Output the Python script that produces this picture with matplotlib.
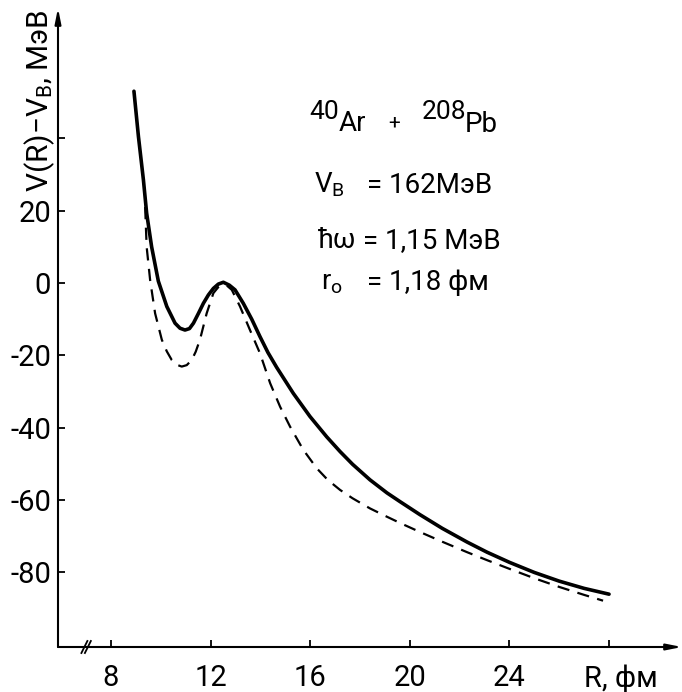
import numpy as np
import matplotlib
matplotlib.use('Agg')
import matplotlib.pyplot as plt
from matplotlib.transforms import blended_transform_factory


plt.rcParams['font.family'] = ['Roboto', 'DejaVu Sans']
plt.rcParams['mathtext.fontset'] = 'custom'
plt.rcParams['mathtext.rm'] = 'Roboto'
plt.rcParams['mathtext.it'] = 'Roboto'


# V(R) - V_B, MeV ; solid curve
r_solid = [8.92, 9.10, 9.30, 9.43, 9.63, 9.90, 10.24, 10.57, 10.77, 10.97, 11.15,
           11.31, 11.51, 11.71, 11.91, 12.11, 12.31, 12.51, 12.75, 12.98, 13.31,
           13.65, 13.98, 14.30, 14.65, 15.32, 15.99, 16.66, 17.20, 17.70, 18.40,
           19.08, 19.60, 20.40, 21.30, 22.30, 23.10, 24.00, 25.00, 26.00, 27.00,
           28.00]
v_solid = [53.0, 40.5, 28.5, 19.3, 10.0, 0.5, -6.5, -11.1, -12.5, -13.0, -12.6,
           -11.1, -8.4, -5.6, -3.3, -1.5, -0.3, 0.2, -0.6, -1.9, -5.6,
           -10.0, -14.8, -19.2, -23.3, -30.5, -36.9, -42.5, -46.6, -50.1, -54.4,
           -58.0, -60.4, -64.0, -67.8, -71.6, -74.4, -77.2, -80.0, -82.4, -84.4,
           -86.0]

# dashed curve
r_dash = [9.37, 9.43, 9.57, 9.77, 10.04, 10.24, 10.44, 10.64, 10.84, 11.04,
          11.24, 11.40, 11.57, 11.84, 12.11, 12.30, 12.45, 12.65, 12.85, 13.18,
          13.58, 13.98, 14.39, 14.79, 15.19, 15.72, 16.26, 16.70, 17.20, 17.70,
          18.40, 19.08, 19.60, 20.40, 21.30, 22.30, 23.10, 24.00, 25.00, 26.00,
          27.00, 27.76]
v_dash = [21.0, 10.0, 0.8, -8.4, -15.7, -18.9, -21.3, -22.6, -23.1, -22.7,
          -21.3, -19.0, -15.7, -8.4, -2.8, -1.2, -0.6, -0.7, -1.9, -6.5,
          -13.0, -19.4, -27.7, -34.2, -39.7, -46.1, -51.2, -54.4, -57.2, -59.5,
          -62.3, -64.6, -66.3, -68.8, -71.5, -74.4, -76.6, -79.0, -81.6, -84.0,
          -86.2, -87.8]

x_ticks = [8, 12, 16, 20, 24, 28]
x_labels = ['8', '12', '16', '20', '24', '']
y_ticks = [40, 20, 0, -20, -40, -60, -80]
y_labels = ['', '20', '0', '-20', '-40', '-60', '-80']


fig = plt.figure(figsize=(6.82, 6.92), dpi=100)
ax = fig.add_axes([58/682, 45/692, 624/682, 639/692])

ax.plot(r_solid, v_solid, color='black', lw=2.6, solid_capstyle='round',
        solid_joinstyle='round')
ax.plot(r_dash, v_dash, color='black', lw=1.6, linestyle=(0, (5.5, 3.8)))

ax.set_xlim(5.87, 30.93)
ax.set_ylim(-100.6, 76)

for s in ax.spines.values():
    s.set_visible(False)

# axes with arrows
ax.annotate('', xy=(0, 1), xytext=(0, 0), xycoords='axes fraction',
            arrowprops=dict(arrowstyle='-|>,head_length=0.9,head_width=0.18',
                            lw=1.5, color='black', shrinkA=0, shrinkB=0))
ax.annotate('', xy=(1, 0), xytext=(0, 0), xycoords='axes fraction',
            arrowprops=dict(arrowstyle='-|>,head_length=0.9,head_width=0.18',
                            lw=1.5, color='black', shrinkA=0, shrinkB=0))

ax.set_xticks(x_ticks)
ax.set_xticklabels(x_labels)
ax.set_yticks(y_ticks)
ax.set_yticklabels(y_labels)
ax.tick_params(axis='both', direction='in', length=5, width=1.3, labelsize=21)
ax.tick_params(axis='x', pad=12)
ax.tick_params(axis='y', pad=5)

# axis break marks
tr = blended_transform_factory(ax.transData, ax.transAxes)
for xb in [6.93, 7.07]:
    ax.plot([xb - 0.12, xb + 0.12], [-0.0094, 0.0094], color='black', lw=1.3,
            transform=tr, clip_on=False)

ax.text(-0.029, 0.855, r'V(R)$-$V$_\mathregular{B}$, МэВ', rotation=90,
        ha='center', va='center', fontsize=21.5, transform=ax.transAxes)
ax.text(0.902, -0.05, 'R, фм', ha='center', va='center', fontsize=21,
        transform=ax.transAxes)

# annotation block
fs = 20
ax.text(15.95, 45.3, '40', fontsize=fs - 1, ha='left', va='baseline')
ax.text(17.12, 42.0, 'Ar', fontsize=fs, ha='left', va='baseline')
ax.text(19.37, 42.6, '+', fontsize=fs - 5, ha='center', va='baseline')
ax.text(20.49, 45.3, '208', fontsize=fs - 1, ha='left', va='baseline')
ax.text(22.22, 41.7, 'Pb', fontsize=fs, ha='left', va='baseline')

ax.text(16.15, 24.9, r'V$_\mathregular{B}$', fontsize=fs, ha='left', va='baseline')
ax.text(18.28, 24.9, '= 162МэВ', fontsize=fs, ha='left', va='baseline')
ax.text(16.3, 9.7, 'ħω', fontsize=fs, ha='left', va='baseline')
ax.text(18.1, 9.7, '= 1,15 МэВ', fontsize=fs, ha='left', va='baseline')
ax.text(16.43, -1.9, r'r$_\mathregular{o}$', fontsize=fs, ha='left', va='baseline')
ax.text(18.28, -1.9, '= 1,18 фм', fontsize=fs, ha='left', va='baseline')

fig.savefig('out.png', dpi=100)
